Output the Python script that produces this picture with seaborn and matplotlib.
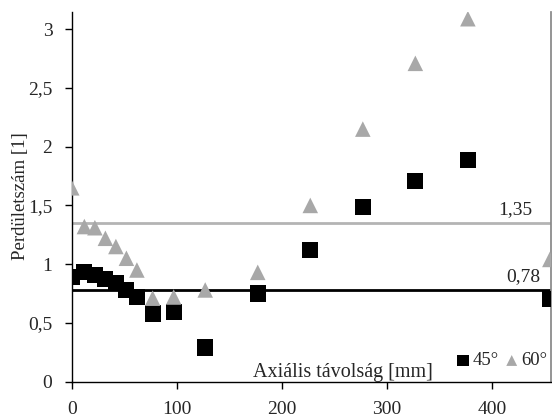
import matplotlib
matplotlib.use("Agg")
import matplotlib.pyplot as plt
import seaborn as sns
import pandas as pd

# axial distance [mm]
dist = [0, 12, 22, 32, 42, 52, 62, 77, 97, 127, 177, 227, 277, 327, 377, 455]
# swirl number, 45 deg and 60 deg vanes
swirl_45 = [0.89, 0.93, 0.91, 0.87, 0.84, 0.78, 0.72, 0.58, 0.59, 0.29, 0.75, 1.12, 1.49, 1.71, 1.89, 0.70]
swirl_60 = [1.65, 1.32, 1.31, 1.22, 1.15, 1.05, 0.95, 0.71, 0.72, 0.78, 0.93, 1.50, 2.15, 2.71, 3.09, 1.04]
mean_45 = 0.78
mean_60 = 1.35

sns.set_theme(style="white")
plt.rcParams['font.family'] = ['Liberation Serif', 'DejaVu Serif']

fig = plt.figure(figsize=(5.52, 4.17), dpi=100)
ax = fig.add_axes([0.13, 0.085, 0.868, 0.887])

df45 = pd.DataFrame({'x': dist, 'y': swirl_45})
df60 = pd.DataFrame({'x': dist, 'y': swirl_60})

ax.axhline(mean_60, color='#b4b4b4', lw=2, zorder=1)
ax.axhline(mean_45, color='black', lw=2, zorder=1)

sns.scatterplot(data=df45, x='x', y='y', marker='s', s=135, color='black',
                edgecolor='none', ax=ax, label='45°', zorder=3)
sns.scatterplot(data=df60, x='x', y='y', marker='^', s=125, color='#a8a8a8',
                edgecolor='none', ax=ax, label='60°', zorder=3)

ax.set_xlim(0, 456)
ax.set_ylim(0, 3.15)
ax.set_xticks([0, 100, 200, 300, 400])
ax.set_yticks([0, 0.5, 1, 1.5, 2, 2.5, 3])
ax.set_yticklabels(['0', '0,5', '1', '1,5', '2', '2,5', '3'])
ax.tick_params(axis='both', labelsize=14, length=5, width=1, direction='out',
               bottom=True, left=True, color='black')
ax.tick_params(axis='y', pad=9)
ax.tick_params(axis='x', pad=9)

for side in ['left', 'bottom']:
    ax.spines[side].set_color('black')
    ax.spines[side].set_linewidth(1)
ax.spines['right'].set_color('#888888')
ax.spines['top'].set_visible(False)

ax.set_xlabel('')
ax.set_ylabel('Perdületszám [1]', fontsize=13.5)
ax.yaxis.set_label_coords(-0.09, 0.5)
ax.text(0.565, 0.012, 'Axiális távolság [mm]', transform=ax.transAxes,
        fontsize=14.5, ha='center', va='baseline')

ax.text(0.962, mean_60 + 0.04, '1,35', transform=ax.get_yaxis_transform(),
        fontsize=14, ha='right', va='bottom')
ax.text(0.977, mean_45 + 0.04, '0,78', transform=ax.get_yaxis_transform(),
        fontsize=14, ha='right', va='bottom')

ax.legend(loc='center left', bbox_to_anchor=(0.805, 0.056), frameon=False,
          fontsize=13.5, ncol=2, handlelength=0.6, handletextpad=0.2,
          columnspacing=0.4, markerscale=0.7, borderpad=0, borderaxespad=0)

fig.savefig('out.png', dpi=100)
